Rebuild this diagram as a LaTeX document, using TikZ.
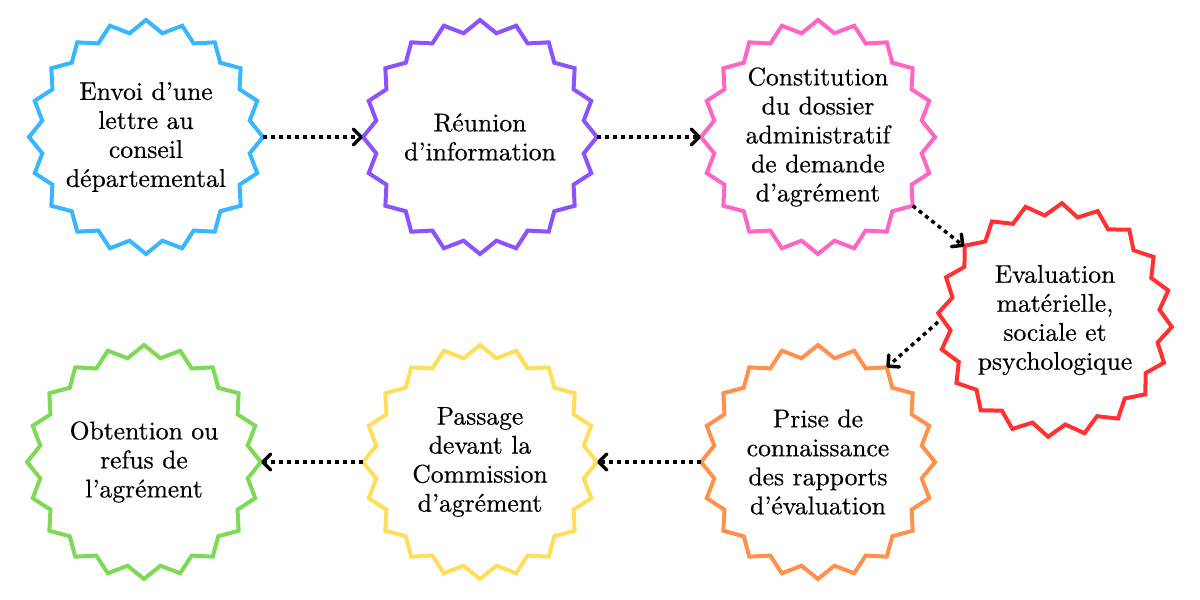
\documentclass[tikz,border=0pt]{standalone}
\usepackage{fontspec}
\setmainfont{lmroman10-regular.otf}[FakeBold=0.5]
\usetikzlibrary{arrows.meta}
\definecolor{cblue}{HTML}{38B6FF}
\definecolor{cpurple}{HTML}{8C52FF}
\definecolor{cpink}{HTML}{FF66C4}
\definecolor{cred}{HTML}{FF3131}
\definecolor{corange}{HTML}{FF914D}
\definecolor{cyellow}{HTML}{FFDE59}
\definecolor{cgreen}{HTML}{7ED957}
\newcommand\burstoutline[3]{%
  \draw[#3, line width=2bp, line join=miter] ([shift={(#2:117)}]#1.center)
    \foreach \k in {0,...,19}{ -- ([shift={({#2+18*\k+9}:105)}]#1.center) -- ([shift={({#2+18*\k+18}:117)}]#1.center)} -- cycle;}
\begin{document}
\begin{tikzpicture}[x=0.5bp,y=-0.5bp,
  burst/.style={circle, minimum size=117bp, inner sep=0pt, outer sep=0pt, align=center,
    font=\fontsize{12.8bp}{14.5bp}\selectfont},
  flow/.style={line width=1.75bp, dash pattern=on 2bp off 2bp,
    -{Straight Barb[length=4bp,width=8bp,line cap=round,line join=round]}}]
\useasboundingbox (0,0) rectangle (1200,600);
\node[burst] (n1) at (146,137) {Envoi d’une\\lettre au\\conseil\\départemental};
\node[burst] (n2) at (480,137) {Réunion\\d’information};
\node[burst] (n3) at (818,137) {Constitution\\du dossier\\administratif\\de demande\\d’agrément};
\node[burst] (n4) at (1055,320) {Evaluation\\matérielle,\\sociale et\\psychologique};
\node[burst] (n5) at (818,462) {Prise de\\connaissance\\des rapports\\d’évaluation};
\node[burst] (n6) at (480,462) {Passage\\devant la\\Commission\\d’agrément};
\node[burst] (n7) at (144,462) {Obtention ou\\refus de\\l’agrément};
\burstoutline{n1}{0}{cblue}
\burstoutline{n2}{0}{cpurple}
\burstoutline{n3}{0}{cpink}
\burstoutline{n4}{3.4}{cred}
\burstoutline{n5}{0}{corange}
\burstoutline{n6}{0}{cyellow}
\burstoutline{n7}{0}{cgreen}
\draw[flow] (n1.east) -- (n2.west);
\draw[flow] (n2.east) -- (n3.west);
\draw[flow] (n3.-36) -- (n4.141);
\draw[flow] (n4.181) -- (n5.54);
\draw[flow] (n5.west) -- (n6.east);
\draw[flow] (n6.west) -- (n7.east);
\end{tikzpicture}
\end{document}
